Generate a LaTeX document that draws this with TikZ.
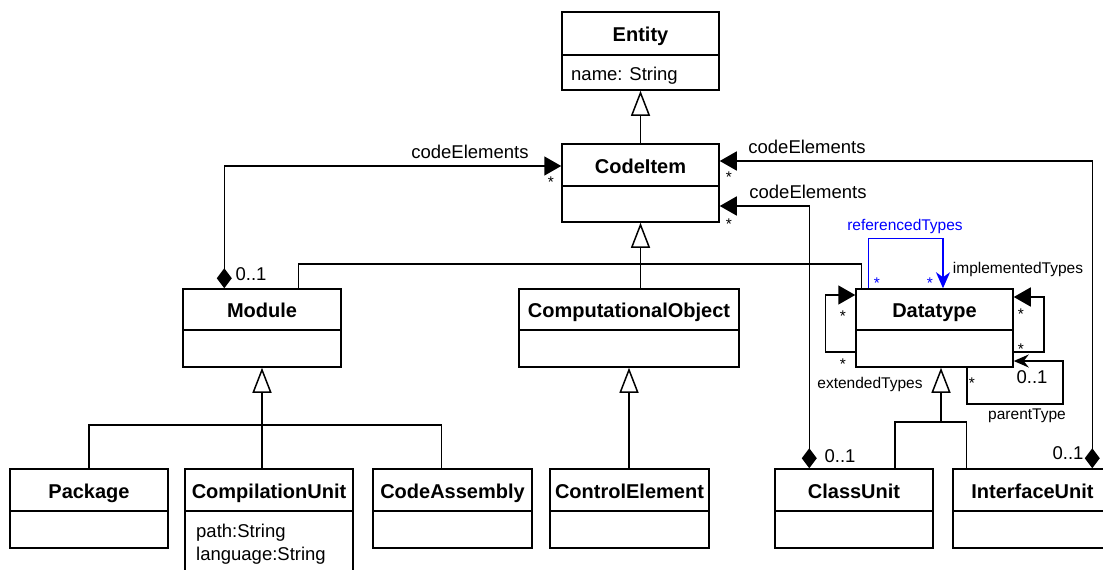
\documentclass[tikz,border=0pt]{standalone}
\usepackage{fontspec}
\setmainfont{Liberation Sans}
\usetikzlibrary{arrows.meta}
\tikzset{
  classbox/.style={draw, line width=1.5pt, inner sep=0pt, fill=white},
  ttl/.style={font=\bfseries\fontsize{20}{24}\selectfont, inner sep=0pt, anchor=base},
  attr/.style={font=\fontsize{18.5}{22}\selectfont, inner sep=0pt, anchor=base west},
  lbl/.style={font=\fontsize{18.5}{22}\selectfont, inner sep=0pt, anchor=base},
  sml/.style={font=\fontsize{15.5}{18}\selectfont, inner sep=0pt, anchor=base},
  conn/.style={line width=1.5pt, line join=miter},
  gen/.style={conn, -{Triangle[open, length=25pt, width=19pt, fill=white]}},
  nav/.style={conn, -{Triangle[length=17pt, width=19pt]}},
  comp/.style={conn, {Diamond[length=20pt, width=15pt]}-{Triangle[length=17pt, width=19pt]}},
  stl/.style={conn, -{Stealth[length=16pt, width=14pt, inset=5pt]}},
}
% class box: name, left, top, right, bottom, divider, title
\newcommand\umlclass[7]{%
  \node[classbox, minimum width={(#4-#2)*1pt}, minimum height={(#5-#3)*1pt}]
    (#1) at ({(#2+#4)/2},{(#3+#5)/2}) {};
  \draw[line width=1.5pt] (#2,#6) -- (#4,#6);
  \node[ttl] (#1-ttl) at ({(#2+#4)/2},{(#3+#6)/2+8}) {#7};
}
\begin{document}
\begin{tikzpicture}[x=1pt, y=-1pt]
\useasboundingbox (0,0) rectangle (1103,570);
\clip (0,0) rectangle (1103,570);

% classes
\umlclass{entity}{562}{12}{719}{90}{55}{Entity}
\node[attr] (entity-a) at (571,80) {name: String};
\umlclass{codeitem}{562}{144}{719}{222}{186}{CodeItem}
\umlclass{module}{183}{289}{341}{367}{330}{Module}
\umlclass{compobj}{519}{289}{739}{367}{330}{ComputationalObject}
\umlclass{datatype}{856}{289}{1013}{367}{330}{Datatype}
\umlclass{package}{10}{469}{168}{548}{511}{Package}
\umlclass{compunit}{185}{469}{353}{600}{511}{CompilationUnit}
\node[attr] (cu-a1) at (196,537) {path:String};
\node[attr] (cu-a2) at (196,560) {language:String};
\umlclass{codeasm}{373}{469}{532}{548}{511}{CodeAssembly}
\umlclass{ctrlel}{550}{469}{709}{548}{511}{ControlElement}
\umlclass{classunit}{775}{469}{933}{548}{511}{ClassUnit}
\umlclass{ifaceunit}{953}{469}{1112}{548}{511}{InterfaceUnit}

% generalizations
\draw[gen] (codeitem.north) -- (entity.south);
\draw[gen] (compobj.north -| codeitem.south) -- (codeitem.south);
\path (codeitem.south) ++(0,41) coordinate (cihub);
\draw[conn] ([xshift=116pt]module.north west) |- (cihub);
\draw[conn] ([xshift=6pt]datatype.north west) |- (cihub);

\path (module.south) ++(0,57) coordinate (mhub);
\draw[gen] (mhub) -- (module.south);
\draw[conn] (package.north) |- (mhub);
\draw[conn] ([xshift=-11pt]codeasm.north) |- (mhub);
\draw[conn] (compunit.north -| mhub) -- (mhub);

\draw[gen] (ctrlel.north -| compobj.south) -- (compobj.south);

\path ([xshift=6.5pt]datatype.south) ++(0,54) coordinate (dhub);
\draw[gen] (dhub) -- ([xshift=6.5pt]datatype.south);
\draw[conn] ([xshift=41pt]classunit.north) |- (dhub);
\draw[conn] ([xshift=14pt]ifaceunit.north west) |- (dhub);

% compositions (codeElements)
\draw[comp] ([xshift=42pt]module.north west) |- ([yshift=17pt]codeitem.west);
\draw[comp] ([xshift=35pt]classunit.north west) |- ([yshift=-23pt]codeitem.east);
\draw[comp] ([xshift=140pt]ifaceunit.north west) |- ([yshift=22pt]codeitem.east);

\node[lbl] (l-ce1) at (470,158) {codeElements};
\node[sml] (m-ce1) at (551,187) {*};
\node[lbl] (m-ce1b) at (251,280) {0..1};
\node[lbl] (l-ce2) at (807,153) {codeElements};
\node[sml] (m-ce2) at (729,182) {*};
\node[lbl] (m-ce2b) at (1068,459) {0..1};
\node[lbl] (l-ce3) at (808,198) {codeElements};
\node[sml] (m-ce3) at (729,229) {*};
\node[lbl] (m-ce3b) at (840,462) {0..1};

% self associations of Datatype
\draw[stl, blue] ([xshift=13pt]datatype.north west) -- ++(0,-50) -| ([xshift=8.5pt]datatype.north);
\node[sml, text=blue] (l-ref) at (905,230) {referencedTypes};
\node[sml, text=blue] (m-ref1) at (877,288) {*};
\node[sml, text=blue] (m-ref2) at (930,288) {*};

\draw[nav] ([yshift=-24pt]datatype.east) -- ++(30,0) |- ([yshift=31pt]datatype.east);
\node[sml] (l-impl) at (1018,273) {implementedTypes};
\node[sml] (m-impl1) at (1021,319) {*};
\node[sml] (m-impl2) at (1021,354) {*};

\draw[nav] ([yshift=-24pt]datatype.west) -- ++(-30,0) |- ([yshift=33pt]datatype.west);
\node[sml] (l-ext) at (870,388) {extendedTypes};
\node[sml] (m-ext1) at (843,321) {*};
\node[sml] (m-ext2) at (843,369) {*};

\draw[conn, -{Stealth[length=15pt, width=13pt, inset=5pt]}]
  ([xshift=32.5pt]datatype.south) |- ++(96,36) |- ([yshift=-33pt]datatype.east);
\node[sml] (m-par1) at (972,388) {*};
\node[lbl] (m-par2) at (1032,383) {0..1};
\node[sml] (l-par) at (1027,419) {parentType};
\end{tikzpicture}
\end{document}
